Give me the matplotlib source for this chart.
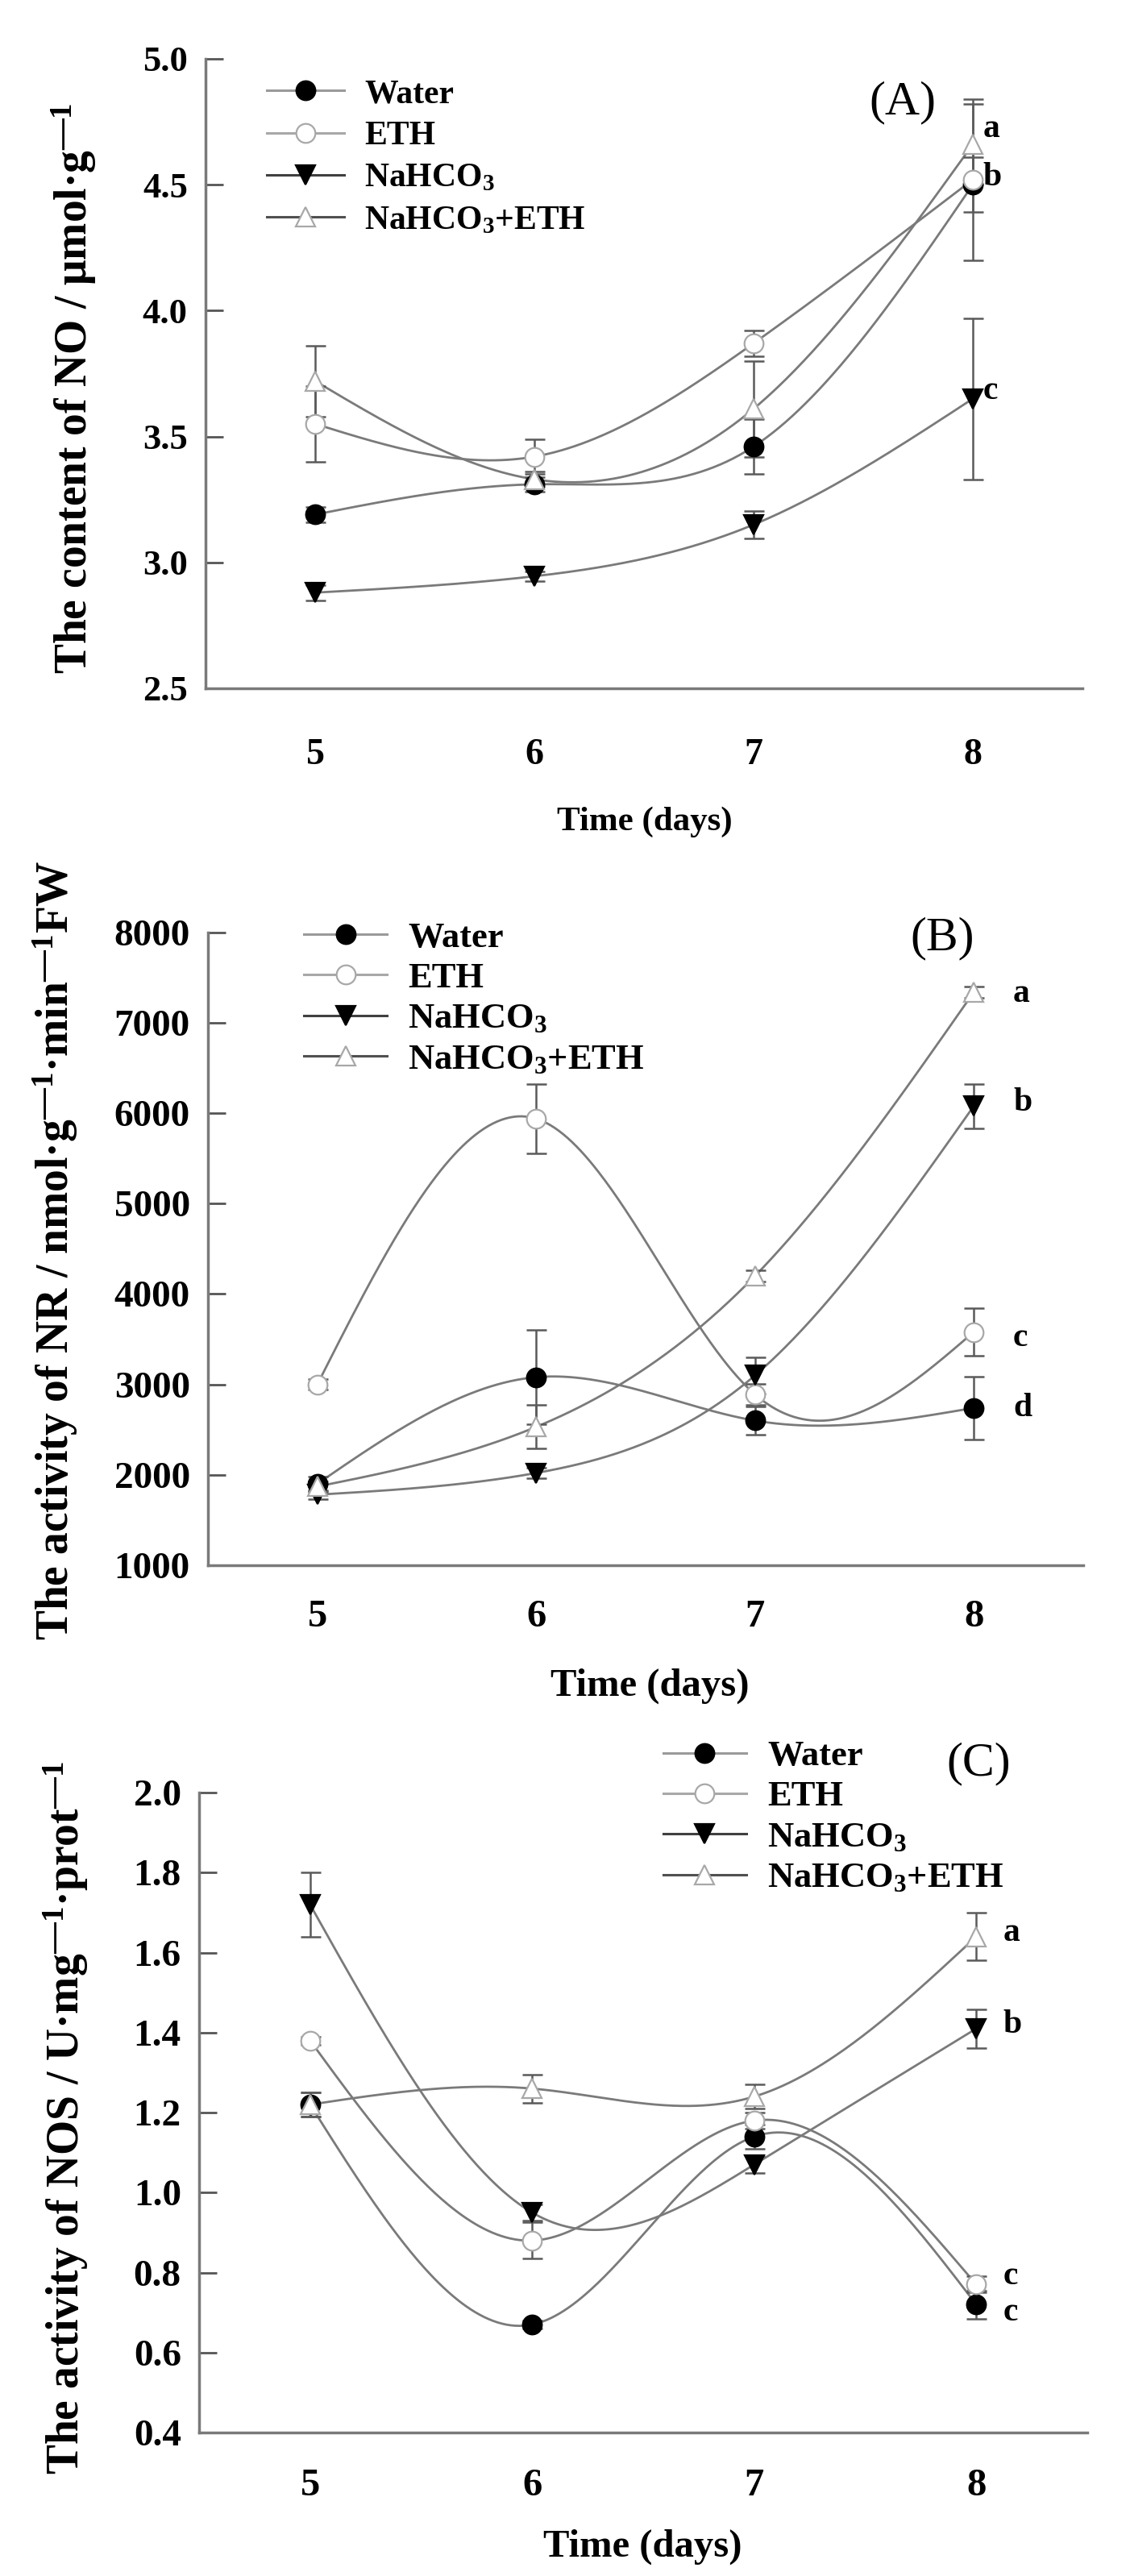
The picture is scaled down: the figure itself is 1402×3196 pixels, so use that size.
import numpy as np
import matplotlib
matplotlib.use('Agg')
import matplotlib.pyplot as plt
from matplotlib.lines import Line2D

plt.rcParams['font.family'] = ['Liberation Serif', 'DejaVu Serif']
plt.rcParams['font.weight'] = 'bold'
plt.rcParams['mathtext.fontset'] = 'custom'
plt.rcParams['mathtext.rm'] = 'Liberation Serif:bold'
plt.rcParams['mathtext.bf'] = 'Liberation Serif:bold'
plt.rcParams['mathtext.it'] = 'Liberation Serif:bold:italic'
plt.rcParams['mathtext.default'] = 'rm'

# ---------------- data ----------------
days = [5, 6, 7, 8]
series_names = ['Water', 'ETH', 'NaHCO$_3$', 'NaHCO$_3$+ETH']

# (A) NO content
no_water = [3.19, 3.31, 3.46, 4.50]
no_eth = [3.55, 3.42, 3.87, 4.52]
no_nahco3 = [2.88, 2.945, 3.15, 3.65]
no_mix = [3.72, 3.33, 3.61, 4.66]
no_water_err = [0.03, 0.03, 0.11, 0.11]
no_eth_err = [0.15, 0.07, 0.05, 0.32]
no_nahco3_err = [0.03, 0.02, 0.055, 0.32]
no_mix_err = [0.14, 0.03, 0.19, 0.16]
no_letters = ['a', 'b', 'c']
no_letter_y = [4.72, 4.53, 3.68]

# (B) NR activity
nr_water = [1900, 3080, 2600, 2740]
nr_eth = [3000, 5940, 2890, 3580]
nr_nahco3 = [1780, 2020, 3100, 6080]
nr_mix = [1870, 2530, 4200, 7340]
nr_water_err = [80, 520, 160, 350]
nr_eth_err = [60, 385, 120, 265]
nr_nahco3_err = [50, 60, 200, 245]
nr_mix_err = [60, 240, 60, 60]
nr_letters = ['a', 'b', 'c', 'd']
nr_letter_y = [7320, 6120, 3510, 2740]

# (C) NOS activity
nos_water = [1.22, 0.67, 1.14, 0.72]
nos_eth = [1.38, 0.88, 1.18, 0.77]
nos_nahco3 = [1.72, 0.95, 1.07, 1.41]
nos_mix = [1.22, 1.26, 1.24, 1.64]
nos_water_err = [0.03, 0.01, 0.03, 0.035]
nos_eth_err = [0.01, 0.045, 0.02, 0.02]
nos_nahco3_err = [0.08, 0.02, 0.022, 0.048]
nos_mix_err = [0.03, 0.035, 0.03, 0.06]
nos_letters = ['a', 'b', 'c', 'c']
nos_letter_y = [1.65, 1.42, 0.79, 0.70]

# ---------------- helpers ----------------
def natural_spline(x, y, n=300):
    x = np.asarray(x, float)
    y = np.asarray(y, float)
    m = len(x)
    h = np.diff(x)
    A = np.zeros((m, m))
    b = np.zeros(m)
    A[0, 0] = 1
    A[-1, -1] = 1
    for i in range(1, m - 1):
        A[i, i - 1] = h[i - 1]
        A[i, i] = 2 * (h[i - 1] + h[i])
        A[i, i + 1] = h[i]
        b[i] = 6 * ((y[i + 1] - y[i]) / h[i] - (y[i] - y[i - 1]) / h[i - 1])
    M = np.linalg.solve(A, b)
    xs = np.linspace(x[0], x[-1], n)
    idx = np.clip(np.searchsorted(x, xs) - 1, 0, m - 2)
    x0 = x[idx]
    x1 = x[idx + 1]
    hh = x1 - x0
    t0 = x1 - xs
    t1 = xs - x0
    ys = (M[idx] * t0 ** 3 / (6 * hh) + M[idx + 1] * t1 ** 3 / (6 * hh)
          + (y[idx] / hh - M[idx] * hh / 6) * t0
          + (y[idx + 1] / hh - M[idx + 1] * hh / 6) * t1)
    return xs, ys

styles = [
    dict(marker='o', mfc='black', mec='black', lc='#9a9a9a'),
    dict(marker='o', mfc='white', mec='#a8a8a8', lc='#a8a8a8'),
    dict(marker='v', mfc='black', mec='black', lc='#404040'),
    dict(marker='^', mfc='white', mec='#a8a8a8', lc='#505050'),
]

fig = plt.figure(figsize=(14.02, 31.96), dpi=100)


def panel(rect, vals, errs, ylim, yticks, yfmt, ylabel, ylab_xy, xlab_xy,
          xlab_size, tick_size, xpad, panel_label, plab_xy, letters, letter_y,
          letter_x, leg_xy, leg_size, leg_space):
    ax = fig.add_axes(rect)
    for v, e, st in zip(vals, errs, styles):
        xs, ys = natural_spline(days, v)
        ax.plot(xs, ys, color='#7a7a7a', lw=2.0, zorder=2)
        ax.errorbar(days, v, yerr=e, fmt='none', ecolor='#5a5a5a',
                    elinewidth=1.8, capsize=9, capthick=1.8, zorder=3)
        ax.plot(days, v, linestyle='none', marker=st['marker'],
                mfc=st['mfc'], mec=st['mec'], mew=1.6, ms=17, zorder=4)
    ax.set_xlim(4.5, 8.5)
    ax.set_ylim(*ylim)
    ax.set_xticks(days)
    ax.set_xticklabels([str(d) for d in days])
    ax.set_yticks(yticks)
    ax.set_yticklabels([yfmt.format(t) for t in yticks])
    for s in ['top', 'right']:
        ax.spines[s].set_visible(False)
    for s in ['left', 'bottom']:
        ax.spines[s].set_color('#7a7a7a')
        ax.spines[s].set_linewidth(2.5)
    ax.tick_params(axis='y', direction='in', length=16, width=2,
                   color='#555555', pad=16, labelsize=tick_size)
    ax.tick_params(axis='x', length=0, pad=xpad, labelsize=tick_size + 1)
    ax.set_ylabel(ylabel, fontsize=40, fontweight='bold')
    ax.yaxis.set_label_coords(*ylab_xy)
    ax.set_xlabel('Time (days)', fontsize=xlab_size, fontweight='bold')
    ax.xaxis.set_label_coords(*xlab_xy)
    ax.text(plab_xy[0], plab_xy[1], panel_label, transform=ax.transAxes,
            ha='center', va='center', fontsize=43, fontweight='normal',
            clip_on=False)
    for lt, ly in zip(letters, letter_y):
        ax.text(letter_x, ly, lt, ha='left', va='center', fontsize=30,
                fontweight='bold')
    handles = [Line2D([], [], color=st['lc'], lw=2.2, marker=st['marker'],
                      mfc=st['mfc'], mec=st['mec'], mew=1.6, ms=17)
               for st in styles]
    leg = ax.legend(handles, series_names, loc='upper left',
                    bbox_to_anchor=leg_xy, frameon=False, fontsize=leg_size,
                    handlelength=2.3, handletextpad=0.6, labelspacing=leg_space,
                    borderpad=0, borderaxespad=0)
    leg.set_zorder(5)
    return ax


panel([0.1819, 0.7328, 0.776, 0.2444],
      [no_water, no_eth, no_nahco3, no_mix],
      [no_water_err, no_eth_err, no_nahco3_err, no_mix_err],
      (2.5, 5.0), np.arange(2.5, 5.01, 0.5), '{:.1f}',
      r'The content of NO / μmol·g$^{—1}$', (-0.122, 0.476), (0.501, -0.187),
      31, 32, 45, '(A)', (0.795, 0.93), no_letters, no_letter_y, 8.045,
      (0.07, 0.968), 30, 0.34)

panel([0.184, 0.3924, 0.7746, 0.2456],
      [nr_water, nr_eth, nr_nahco3, nr_mix],
      [nr_water_err, nr_eth_err, nr_nahco3_err, nr_mix_err],
      (1000, 8000), np.arange(1000, 8001, 1000), '{:.0f}',
      r'The activity of NR / nmol·g$^{—1}$·min$^{—1}$FW', (-0.146, 0.498),
      (0.505, -0.163), 35, 34, 30, '(B)', (0.839, 0.991), nr_letters,
      nr_letter_y, 8.18, (0.11, 1.017), 32, 0.23)

panel([0.1762, 0.0557, 0.786, 0.2484],
      [nos_water, nos_eth, nos_nahco3, nos_mix],
      [nos_water_err, nos_eth_err, nos_nahco3_err, nos_mix_err],
      (0.4, 2.0), np.arange(0.4, 2.001, 0.2), '{:.1f}',
      r'The activity of NOS / U·mg$^{—1}$·prot$^{—1}$', (-0.1225, 0.492),
      (0.499, -0.151), 35, 34, 32, '(C)', (0.878, 1.045), nos_letters,
      nos_letter_y, 8.12, (0.523, 1.082), 32, 0.23)

fig.savefig('out.png', dpi=100)
